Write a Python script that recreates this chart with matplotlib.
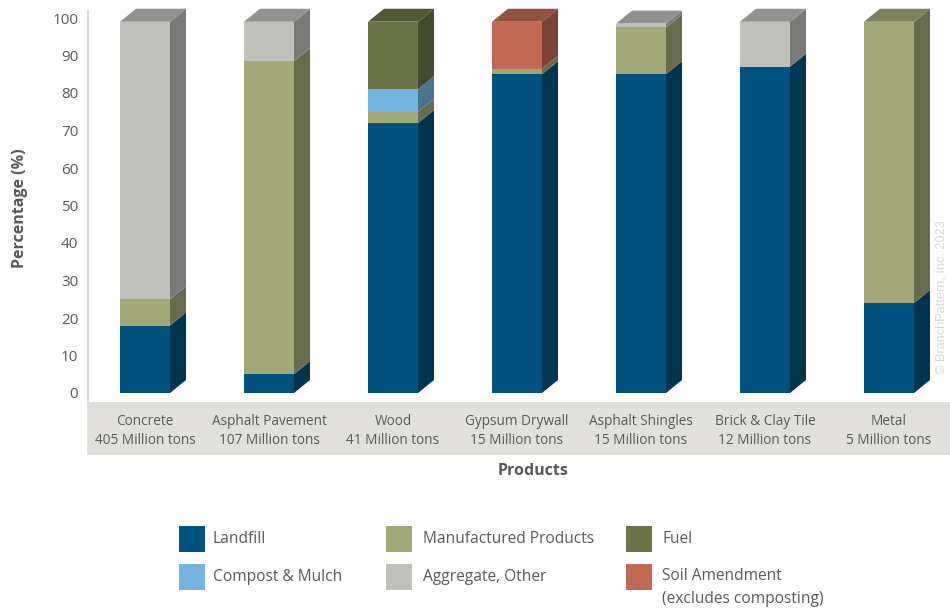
import matplotlib
matplotlib.use("Agg")
import matplotlib.pyplot as plt
from matplotlib.patches import Polygon, Rectangle
from matplotlib import colors as mcolors
import numpy as np

# ---------------- data ----------------
products = ["Concrete", "Asphalt Pavement", "Wood", "Gypsum Drywall",
            "Asphalt Shingles", "Brick & Clay Tile", "Metal"]
tonnage = ["405 Million tons", "107 Million tons", "41 Million tons",
           "15 Million tons", "15 Million tons", "12 Million tons", "5 Million tons"]

series_names = ["Landfill", "Manufactured Products", "Compost & Mulch",
                "Fuel", "Soil Amendment\n(excludes composting)", "Aggregate, Other"]
landfill      = [18, 5, 72, 85, 85, 87, 24]
manufactured  = [7, 83.5, 3, 1.5, 12.5, 0, 75]
compost       = [0, 0, 6, 0, 0, 0, 0]
fuel          = [0, 0, 18, 0, 0, 0, 0]
soil          = [0, 0, 0, 12.5, 0, 0, 0]
aggregate     = [74, 10.5, 0, 0, 1, 12, 0]
series_values = [landfill, manufactured, compost, fuel, soil, aggregate]

yticks = list(range(0, 101, 10))

# ---------------- style ----------------
series_colors = ["#00527f", "#a3a87a", "#75b4e0", "#6b7448", "#c06a55", "#bfbfbb"]
TXT = "#595959"

def shade(c, f):
    r, g, b = mcolors.to_rgb(c)
    return (r * f, g * f, b * f)

W, H = 950, 609
fig = plt.figure(figsize=(W / 100, H / 100), dpi=100)

# axes placement (pixel based)
ax_left, ax_right = 88, 950
y0_px, px_per_unit = 393, 3.75
ymax = 104
ax_bottom_px = y0_px
ax_top_px = y0_px - ymax * px_per_unit
ax = fig.add_axes([ax_left / W, (H - ax_bottom_px) / H,
                   (ax_right - ax_left) / W, (ax_bottom_px - ax_top_px) / H])

x0_px, step_px = 145, 124
ax.set_xlim((ax_left - x0_px) / step_px, (ax_right - x0_px) / step_px)
ax.set_ylim(0, ymax)

bar_w = 50 / step_px
dx = 16 / step_px
dy = 13 / px_per_unit

x = np.arange(len(products))
bottoms = np.zeros(len(products))
tops_color = [None] * len(products)
for vals, col in zip(series_values, series_colors):
    vals = np.array(vals, dtype=float)
    ax.bar(x, vals, width=bar_w, bottom=bottoms, color=col, edgecolor="none", zorder=3)
    for i in range(len(products)):
        if vals[i] <= 0:
            continue
        b, t = bottoms[i], bottoms[i] + vals[i]
        xr = x[i] + bar_w / 2
        side = Polygon([(xr, b), (xr + dx, b + dy), (xr + dx, t + dy), (xr, t)],
                       closed=True, facecolor=shade(col, 0.64), edgecolor="none", zorder=3)
        ax.add_patch(side)
        tops_color[i] = (t, col)
    bottoms = bottoms + vals

for i, (t, col) in enumerate(tops_color):
    xl = x[i] - bar_w / 2
    xr = x[i] + bar_w / 2
    top = Polygon([(xl, t), (xr, t), (xr + dx, t + dy), (xl + dx, t + dy)],
                  closed=True, facecolor=shade(col, 0.76), edgecolor="none", zorder=3,
                  clip_on=False)
    ax.add_patch(top)

# axes styling
for s in ["top", "right", "bottom"]:
    ax.spines[s].set_visible(False)
ax.spines["left"].set_color("#d9d9d9")
ax.spines["left"].set_linewidth(1.5)
ax.spines["left"].set_bounds(-2, 102)
ax.set_yticks(yticks)
ax.set_yticklabels([str(v) for v in yticks], fontsize=11, color=TXT, family="Open Sans")
ax.tick_params(axis="y", length=0, pad=7)

ax.set_xticks(x)
ax.set_xticklabels([f"{p}\n{t}" for p, t in zip(products, tonnage)],
                   fontsize=9.8, color=TXT, family="Open Sans",
                   linespacing=1.42)
ax.tick_params(axis="x", length=0, pad=15)

# grey category band
fig.add_artist(Rectangle((87 / W, (H - 455) / H), (W - 87) / W, 53 / H,
                         transform=fig.transFigure, facecolor="#e1e0dc",
                         edgecolor="none", zorder=0))

fig.text(533 / W, (H - 471) / H, "Products", ha="center", va="center",
         fontsize=11.5, fontweight="bold", color=TXT, family="Open Sans")
fig.text(20 / W, (H - 208) / H, "Percentage (%)", ha="center", va="center",
         rotation=90, fontsize=11.5, fontweight="bold", color=TXT, family="Open Sans")

fig.text(942 / W, (H - 297) / H, "\u00a9 BranchPattern, Inc. 2023", ha="center",
         va="center", rotation=90, fontsize=9.2, color="#d6d6d6",
         family="Liberation Sans")

# legend (manual layout)
legend_order = [0, 1, 3, 2, 5, 4]
sq = 26
col_x = [179, 386, 626]
text_x = [213, 423, 662]
row_c = [539, 577]
for k, si in enumerate(legend_order):
    r, c = divmod(k, 3)
    cy = row_c[r]
    fig.add_artist(Rectangle((col_x[c] / W, (H - cy - sq / 2) / H), sq / W, sq / H,
                             transform=fig.transFigure, facecolor=series_colors[si],
                             edgecolor="none"))
    label = series_names[si]
    if "\n" in label:
        fig.text(text_x[c] / W, (H - cy + 9) / H, label, ha="left", va="top",
                 fontsize=11.2, color=TXT, family="Open Sans", linespacing=1.55)
    else:
        fig.text(text_x[c] / W, (H - cy) / H, label, ha="left", va="center",
                 fontsize=11.2, color=TXT, family="Open Sans")

fig.savefig("out.png", dpi=100)
